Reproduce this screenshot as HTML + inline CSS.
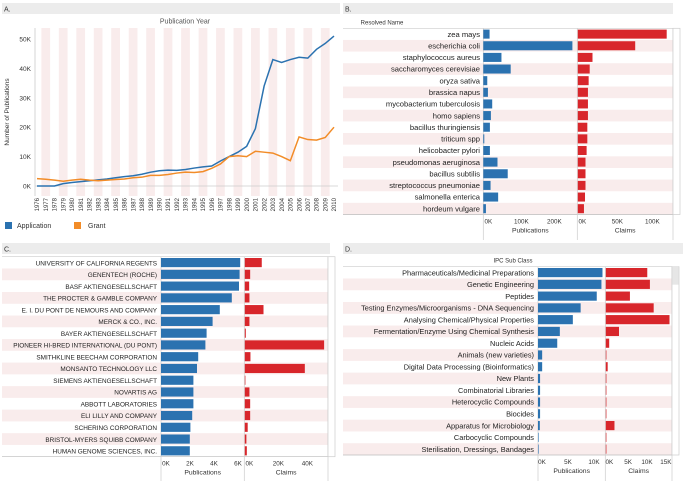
<!DOCTYPE html>
<html><head><meta charset="utf-8"><style>
html,body{margin:0;padding:0;background:#fff;width:686px;height:484px;overflow:hidden}
svg{display:block;font-family:"Liberation Sans",sans-serif}
</style></head><body>
<svg id="s" width="686" height="484" viewBox="0 0 686 484">
<rect x="2" y="3" width="338" height="11" fill="#ececec"/>
<text x="4" y="11.5" font-size="7" fill="#333">A.</text>
<rect x="343" y="3" width="330" height="11" fill="#ececec"/>
<text x="345" y="11.5" font-size="7" fill="#333">B.</text>
<rect x="2" y="243" width="328" height="11" fill="#ececec"/>
<text x="4" y="251.5" font-size="7" fill="#333">C.</text>
<rect x="343" y="243" width="340" height="11" fill="#ececec"/>
<text x="345" y="251.5" font-size="7" fill="#333">D.</text>
<g id="A"></g>
<g id="B"></g>
<g id="C"></g>
<g id="D"></g>
</svg>
<script>
const years=[1976,1977,1978,1979,1980,1981,1982,1983,1984,1985,1986,1987,1988,1989,1990,1991,1992,1993,1994,1995,1996,1997,1998,1999,2000,2001,2002,2003,2004,2005,2006,2007,2008,2009,2010];
const application=[0,0,0,0.8,1.2,1.5,1.8,2.1,2.4,2.8,3.2,3.5,4,4.7,5.2,5.4,5.3,5.6,6.1,6.5,6.8,8.5,10,11.5,13.5,19.5,34,43,42,43,43.8,43.5,46.5,48.5,51];
const grant=[2.5,2.3,2.0,1.6,2.0,2.3,2.0,1.8,2.0,2.2,2.4,2.8,3.0,3.6,3.6,3.9,4.4,4.7,4.6,4.9,6.0,7.5,10,10.3,10,11.8,11.5,11.2,10,8.6,16.7,15.8,15.6,16.5,20];
const yTicks=[0,10,20,30,40,50];

const bNames=["zea mays","escherichia coli","staphylococcus aureus","saccharomyces cerevisiae","oryza sativa","brassica napus","mycobacterium tuberculosis","homo sapiens","bacillus thuringiensis","triticum spp","helicobacter pylori","pseudomonas aeruginosa","bacillus subtilis","streptococcus pneumoniae","salmonella enterica","hordeum vulgare"];
const bPubs=[19,270,55,83,12,14,27,23,20,3,20,43,74,22,45,8];
const bClaims=[127,82,21,17,15.5,14.5,14.5,14.5,13.6,13.6,12.6,11,11,11,10.3,8.8];
const bPubTicks=[0,100,200];
const bClaimTicks=[0,50,100];

const cNames=["UNIVERSITY OF CALIFORNIA REGENTS","GENENTECH (ROCHE)","BASF AKTIENGESELLSCHAFT","THE PROCTER & GAMBLE COMPANY","E. I. DU PONT DE NEMOURS AND COMPANY","MERCK & CO., INC.","BAYER AKTIENGESELLSCHAFT","PIONEER HI-BRED INTERNATIONAL (DU PONT)","SMITHKLINE BEECHAM CORPORATION","MONSANTO TECHNOLOGY LLC","SIEMENS AKTIENGESELLSCHAFT","NOVARTIS AG","ABBOTT LABORATORIES","ELI LILLY AND COMPANY","SCHERING CORPORATION","BRISTOL-MYERS SQUIBB COMPANY","HUMAN GENOME SCIENCES, INC."];
const cPubs=[6.6,6.55,6.5,5.9,4.9,4.3,3.8,3.7,3.1,3.0,2.7,2.7,2.7,2.6,2.45,2.4,2.4];
const cClaims=[11.7,3.7,3,3.2,12.9,3.2,0.7,54.7,3.9,41.4,0.2,3.2,3.7,3.7,2,1.1,1.4];
const cPubTicks=[0,2,4,6];
const cClaimTicks=[0,20,40];

const dNames=["Pharmaceuticals/Medicinal Preparations","Genetic Engineering","Peptides","Testing Enzymes/Microorganisms - DNA Sequencing","Analysing Chemical/Physical Properties","Fermentation/Enzyme Using Chemical Synthesis","Nucleic Acids","Animals (new varieties)","Digital Data Processing (Bioinformatics)","New Plants","Combinatorial Libraries","Heterocyclic Compounds","Biocides","Apparatus for Microbiology","Carbocyclic Compounds","Sterilisation, Dressings, Bandages"];
const dPubs=[12.4,12.2,11.3,8.2,6.7,4.2,3.7,0.8,0.8,0.4,0.4,0.4,0.4,0.35,0.1,0.05];
const dClaims=[11,11.7,6.4,12.7,16.9,3.5,0.9,0.1,0.5,0.05,0.05,0.05,0.05,2.3,0.05,0.05];
const dPubTicks=[0,5,10];
const dClaimTicks=[0,5,10,15];

const NS="http://www.w3.org/2000/svg";
function mk(parent,tag,attrs,txt){const e=document.createElementNS(NS,tag);for(const k in attrs)e.setAttribute(k,attrs[k]);if(txt!==undefined)e.textContent=txt;parent.appendChild(e);return e;}
const BLUE="#2b72b0",ORANGE="#f28c28",RED="#d8262b",PINK="#f9ecec";

// Panel A
(function(){
 const g=document.getElementById('A');
 const x0=37,step=(334-37)/(years.length-1);
 const X=i=>x0+i*step, Y=v=>186-v*2.94;
 const top=28,bot=196;
 years.forEach((yr,i)=>{ if(i%2===1){const r=mk(g,'rect',{x:X(i)-step/2,y:top,width:step,height:bot-top,fill:PINK});
  
  }});
 let t=mk(g,'text',{x:185,y:23.5,'font-size':7,fill:'#555','text-anchor':'middle'},'Publication Year');
 
 
 mk(g,'line',{x1:35,y1:top,x2:35,y2:bot,stroke:'#ccc','stroke-width':0.8});
 mk(g,'line',{x1:35,y1:Y(0),x2:338,y2:Y(0),stroke:'#ccc','stroke-width':0.8});
 yTicks.forEach(v=>{const l=mk(g,'text',{x:31,y:Y(v)+2.5,'font-size':6.5,fill:'#333','text-anchor':'end'},v+'K');
  
  });
 t=mk(g,'text',{x:9,y:112,'font-size':6.5,fill:'#333','text-anchor':'middle',transform:'rotate(-90 9 112)'},'Number of Publications');
 
 
 years.forEach((yr,i)=>{const l=mk(g,'text',{x:X(i)+2.2,y:198,'font-size':6,fill:'#333','text-anchor':'end',transform:`rotate(-90 ${X(i)+2.2} 198)`},yr);
  
  });
 const pa=mk(g,'polyline',{points:application.map((v,i)=>X(i)+','+Y(v)).join(' '),fill:'none',stroke:BLUE,'stroke-width':1.5});
 
 
 const pg=mk(g,'polyline',{points:grant.map((v,i)=>X(i)+','+Y(v)).join(' '),fill:'none',stroke:ORANGE,'stroke-width':1.5});
 
 
 const l1=mk(g,'g',{});
 
 
 mk(l1,'rect',{x:5,y:222,width:7,height:7,fill:BLUE});
 mk(l1,'text',{x:17,y:228,'font-size':7,fill:'#333'},'Application');
 const l2=mk(g,'g',{});
 
 
 mk(l2,'rect',{x:74,y:222,width:7,height:7,fill:ORANGE});
 mk(l2,'text',{x:88,y:228,'font-size':7,fill:'#333'},'Grant');
})();

function barPanel(id,cfg){
 const g=document.getElementById(id);
 const n=cfg.names.length, rh=(cfg.bottom-cfg.top)/n;
 const PX=v=>cfg.pubX+v*cfg.pubK, CX=v=>cfg.claimX+v*cfg.claimK;
 for(let i=0;i<n;i++){
  const y=cfg.top+i*rh;
  if(i%2===1){const r=mk(g,'rect',{x:cfg.left,y:y,width:cfg.right-cfg.left,height:rh,fill:PINK});
   
   }
 }
 mk(g,'line',{x1:cfg.left,y1:cfg.top,x2:cfg.right,y2:cfg.top,stroke:'#ccc','stroke-width':0.7});
 mk(g,'line',{x1:cfg.left,y1:cfg.bottom,x2:cfg.right,y2:cfg.bottom,stroke:'#bbb','stroke-width':0.7});
 [cfg.pubX,cfg.claimX,cfg.right].forEach(x=>mk(g,'line',{x1:x,y1:cfg.top,x2:x,y2:cfg.axisEnd,stroke:'#ccc','stroke-width':0.7}));
 mk(g,'rect',{x:cfg.right,y:cfg.top,width:7,height:cfg.bottom-cfg.top,fill:'#fff',stroke:'#ccc','stroke-width':0.7});
 if(cfg.thumb)mk(g,'rect',{x:cfg.right+0.5,y:cfg.top,width:6,height:18,fill:'#e6e6e6'});
 for(let i=0;i<n;i++){
  const y=cfg.top+i*rh;
  const t=mk(g,'text',{x:cfg.labelX,y:y+rh/2+2.7,'font-size':cfg.fs,fill:'#222','text-anchor':'end'},cfg.names[i]);
  
  
  const b=mk(g,'rect',{x:PX(0),y:y+1.3,width:Math.max(0.6,PX(cfg.pubs[i])-PX(0)),height:rh-2.6,fill:BLUE});
  
  
  const c=mk(g,'rect',{x:CX(0)+0.5,y:y+1.3,width:Math.max(0.6,CX(cfg.claims[i])-CX(0)),height:rh-2.6,fill:RED});
  
  
 }
 const ty=cfg.bottom+9;
 cfg.pubTicks.forEach(v=>{const t=mk(g,'text',{x:PX(v)+cfg.off,y:ty,'font-size':6.3,fill:'#333','text-anchor':'middle'},v+'K');
  
  });
 cfg.claimTicks.forEach(v=>{const t=mk(g,'text',{x:CX(v)+cfg.off,y:ty,'font-size':6.3,fill:'#333','text-anchor':'middle'},v+'K');
  
  });
 let t=mk(g,'text',{x:(cfg.pubX+cfg.claimX)/2,y:ty+9,'font-size':6.8,fill:'#333','text-anchor':'middle'},'Publications');
 
 
 t=mk(g,'text',{x:(cfg.claimX+cfg.right)/2,y:ty+9,'font-size':6.8,fill:'#333','text-anchor':'middle'},'Claims');
 
 
 if(cfg.title){t=mk(g,'text',{x:cfg.titleX,y:cfg.top-4,'font-size':6,fill:'#333','text-anchor':'middle'},cfg.title);
  
  }
}
barPanel('B',{names:bNames,pubs:bPubs,claims:bClaims,pubTicks:bPubTicks,claimTicks:bClaimTicks,left:343,right:673,top:28.3,bottom:214.5,axisEnd:240,labelX:480,pubX:483.3,pubK:0.33,claimX:577.3,claimK:0.7,off:5,fs:7.6,title:'Resolved Name',titleX:382,thumb:false});
barPanel('C',{names:cNames,pubs:cPubs,claims:cClaims,pubTicks:cPubTicks,claimTicks:cClaimTicks,left:2,right:328,top:256.7,bottom:456.7,axisEnd:481,labelX:157,pubX:161,pubK:12,claimX:244.3,claimK:1.45,off:5,fs:6.4,title:null,thumb:false});
barPanel('D',{names:dNames,pubs:dPubs,claims:dClaims,pubTicks:dPubTicks,claimTicks:dClaimTicks,left:343,right:672,top:266.7,bottom:455,axisEnd:481,labelX:534,pubX:538,pubK:5.2,claimX:605.3,claimK:3.77,off:4,fs:7.4,title:'IPC Sub Class',titleX:513,thumb:true});
</script>
</body></html>
